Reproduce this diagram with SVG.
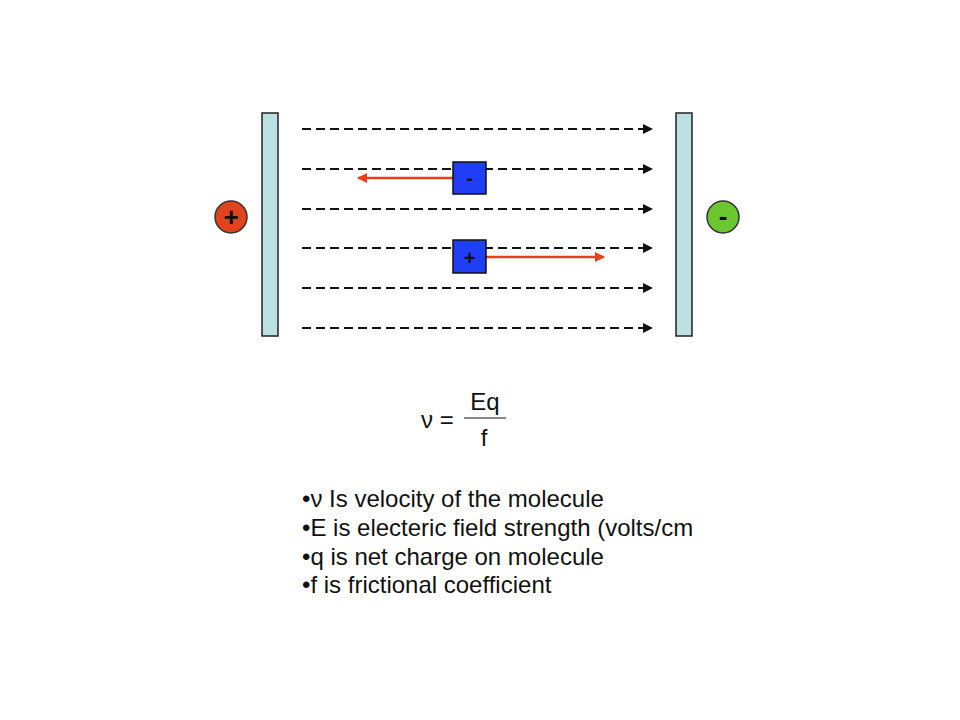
<svg xmlns="http://www.w3.org/2000/svg" width="960" height="720" viewBox="0 0 960 720">
<style>
.plate{fill:#bde0e3;stroke:#222;stroke-width:1.5}
.field{stroke:#111;stroke-width:2;stroke-dasharray:9,5;fill:none;marker-end:url(#blk)}
.move{stroke:#e8401c;stroke-width:2.5;fill:none;marker-end:url(#red)}
.ion{fill:#1f3ef5;stroke:#111;stroke-width:1.5}
.sign{font-family:"Liberation Sans",Arial,sans-serif;font-weight:bold;fill:#111;text-anchor:middle}
.t{font-family:"Liberation Sans",Arial,sans-serif;fill:#111;font-size:24px}
</style>
<defs>
<marker id="blk" viewBox="0 0 10 10" refX="9" refY="5" markerWidth="5" markerHeight="5" orient="auto" markerUnits="strokeWidth"><path d="M0,0 L10,5 L0,10 z" fill="#111"/></marker>
<marker id="red" viewBox="0 0 10 10" refX="9" refY="5" markerWidth="4" markerHeight="4" orient="auto" markerUnits="strokeWidth"><path d="M0,0 L10,5 L0,10 z" fill="#e8401c"/></marker>
</defs>
<rect width="960" height="720" fill="#fff"/>
<g id="connectors">
<line class="field" x1="302" y1="129" x2="652" y2="129"/>
<line class="field" x1="302" y1="169" x2="652" y2="169"/>
<line class="field" x1="302" y1="209" x2="652" y2="209"/>
<line class="field" x1="302" y1="248" x2="652" y2="248"/>
<line class="field" x1="302" y1="288" x2="652" y2="288"/>
<line class="field" x1="302" y1="328" x2="652" y2="328"/>
<line class="move" x1="453" y1="178" x2="358" y2="178"/>
<line class="move" x1="486" y1="257" x2="604" y2="257"/>
</g>
<g id="anode"><rect class="plate" x="262" y="113" width="16" height="223"/></g>
<g id="cathode"><rect class="plate" x="676" y="113" width="16" height="223"/></g>
<g id="plus-terminal"><circle cx="231" cy="217" r="16" fill="#e2421d" stroke="#333" stroke-width="1.5"/><text class="sign" x="231" y="226" font-size="26">+</text></g>
<g id="minus-terminal"><circle cx="723" cy="217" r="16" fill="#6cc631" stroke="#333" stroke-width="1.5"/><text class="sign" x="723" y="225" font-size="26">-</text></g>
<g id="anion"><rect class="ion" x="453" y="162" width="33" height="32"/><text class="sign" x="469.500" y="185" font-size="20">-</text></g>
<g id="cation"><rect class="ion" x="453" y="240" width="33" height="33"/><text class="sign" x="469.500" y="265" font-size="20">+</text></g>
<g id="formula">
<text class="t" x="421" y="428" font-size="22">ν =</text>
<text class="t" x="485" y="410" font-size="22" text-anchor="middle">Eq</text>
<line x1="464" y1="418" x2="506" y2="418" stroke="#111" stroke-width="1"/>
<text class="t" x="484" y="446" font-size="22" text-anchor="middle">f</text>
</g>
<g id="notes">
<text class="t" x="302" y="507">•ν Is velocity of the molecule</text>
<text class="t" x="302" y="536">•E is electeric field strength (volts/cm</text>
<text class="t" x="302" y="565">•q is net charge on molecule</text>
<text class="t" x="302" y="593">•f is frictional coefficient</text>
</g>
</svg>
